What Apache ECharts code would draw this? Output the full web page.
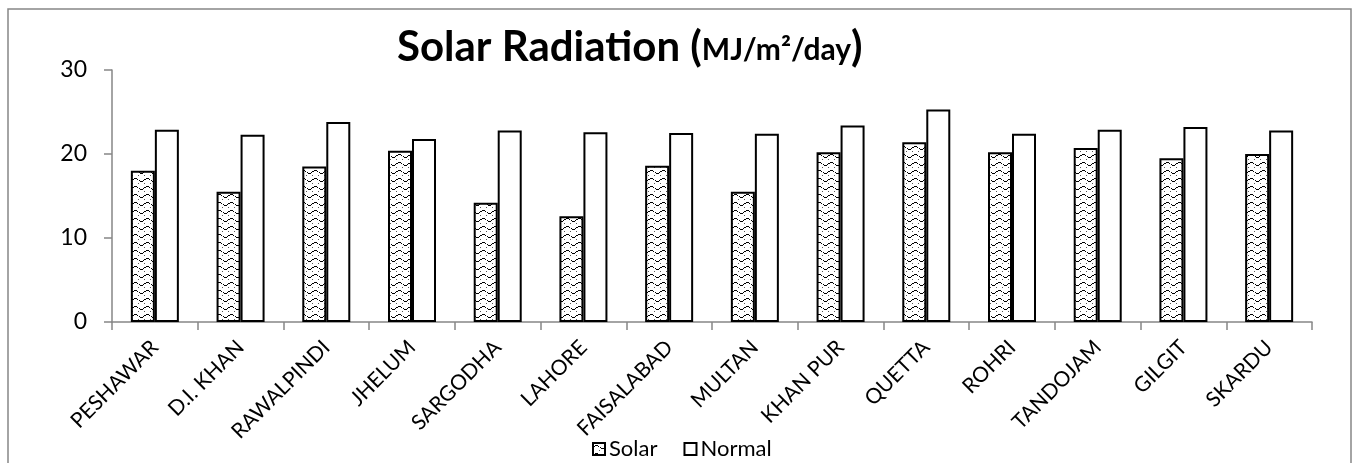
<!DOCTYPE html>
<html>
<head>
<meta charset="utf-8">
<script src="https://cdn.jsdelivr.net/npm/echarts@6/dist/echarts.min.js"></script>
<style>
  html, body { margin: 0; padding: 0; background: #fff; }
  #chart { width: 1357px; height: 463px; }
</style>
</head>
<body>
<div id="chart"></div>
<script>
// station names and monthly-average radiation values
const stations = ['PESHAWAR', 'D.I. KHAN', 'RAWALPINDI', 'JHELUM', 'SARGODHA', 'LAHORE', 'FAISALABAD',
  'MULTAN', 'KHAN PUR', 'QUETTA', 'ROHRI', 'TANDOJAM', 'GILGIT', 'SKARDU'];
const solarValues = [18.0, 15.5, 18.5, 20.4, 14.2, 12.6, 18.6, 15.5, 20.2, 21.4, 20.2, 20.7, 19.5, 20.0];
const normalValues = [22.9, 22.3, 23.8, 21.8, 22.8, 22.6, 22.5, 22.4, 23.4, 25.3, 22.4, 22.9, 23.2, 22.8];
const yTicks = [0, 10, 20, 30];

// wavy dotted fill for the Solar bars
function makePattern() {
  const c = document.createElement('canvas');
  c.width = 12;
  c.height = 8;
  const ctx = c.getContext('2d');
  ctx.fillStyle = '#fff';
  ctx.fillRect(0, 0, 12, 8);
  ctx.fillStyle = '#000';
  // little arch
  ctx.fillRect(0, 3, 2, 1);
  ctx.fillRect(2, 2, 3, 1);
  ctx.fillRect(5, 3, 1, 1);
  // little dip
  ctx.fillRect(7, 4, 1, 1);
  ctx.fillRect(8, 5, 3, 1);
  ctx.fillRect(11, 4, 1, 1);
  ctx.fillStyle = '#555';
  ctx.fillRect(6, 7, 1, 1);
  ctx.fillRect(0, 7, 1, 1);
  return c;
}

const chart = echarts.init(document.getElementById('chart'));
const axisGray = '#868686';
const font = 'Lato';
const option = {
  backgroundColor: '#fff',
  animation: false,
  title: {
    text: '{a|Solar Radiation (}{b|MJ/m²/day}{a|)}',
    left: 392,
    top: 21,
    textStyle: {
      rich: {
        a: { fontFamily: font, fontSize: 42, fontWeight: 'bold', color: '#000' },
        b: { fontFamily: font, fontSize: 30, fontWeight: 'bold', color: '#000', padding: [6, 0, 0, 0] }
      }
    }
  },
  legend: {
    data: ['Solar', 'Normal'],
    left: 587,
    top: 433,
    icon: 'rect',
    itemWidth: 12,
    itemHeight: 12,
    itemGap: 26,
    textStyle: { fontFamily: font, fontSize: 22, color: '#000', padding: [0, 0, 0, -1] }
  },
  grid: {
    left: 112,
    right: 45,
    top: 70,
    bottom: 141
  },
  graphic: [
    {
      type: 'rect',
      shape: { x: 8, y: 9, width: 1343, height: 470 },
      style: { fill: 'none', stroke: axisGray, lineWidth: 1.5 },
      silent: true
    }
  ],
  xAxis: {
    type: 'category',
    data: stations,
    axisLine: { lineStyle: { color: axisGray, width: 1.5 } },
    axisTick: { show: true, length: 8, lineStyle: { color: axisGray, width: 1.5 } },
    axisLabel: {
      rotate: 45,
      interval: 0,
      margin: 22,
      fontFamily: font,
      fontSize: 21,
      color: '#000'
    }
  },
  yAxis: {
    type: 'value',
    min: yTicks[0],
    max: yTicks[yTicks.length - 1],
    interval: 10,
    splitLine: { show: false },
    axisLine: { show: true, lineStyle: { color: axisGray, width: 1.5 } },
    axisTick: { show: true, length: 8, lineStyle: { color: axisGray, width: 1.5 } },
    axisLabel: { fontFamily: font, fontSize: 23, color: '#000', margin: 25 }
  },
  series: [
    {
      name: 'Solar',
      type: 'bar',
      data: solarValues,
      barWidth: 24,
      barGap: '0%',
      itemStyle: {
        color: { image: makePattern(), repeat: 'repeat' },
        borderColor: '#000',
        borderWidth: 2
      }
    },
    {
      name: 'Normal',
      type: 'bar',
      data: normalValues,
      barWidth: 24,
      itemStyle: {
        color: '#fff',
        borderColor: '#000',
        borderWidth: 2
      }
    }
  ]
};
chart.setOption(option);
</script>
</body>
</html>
